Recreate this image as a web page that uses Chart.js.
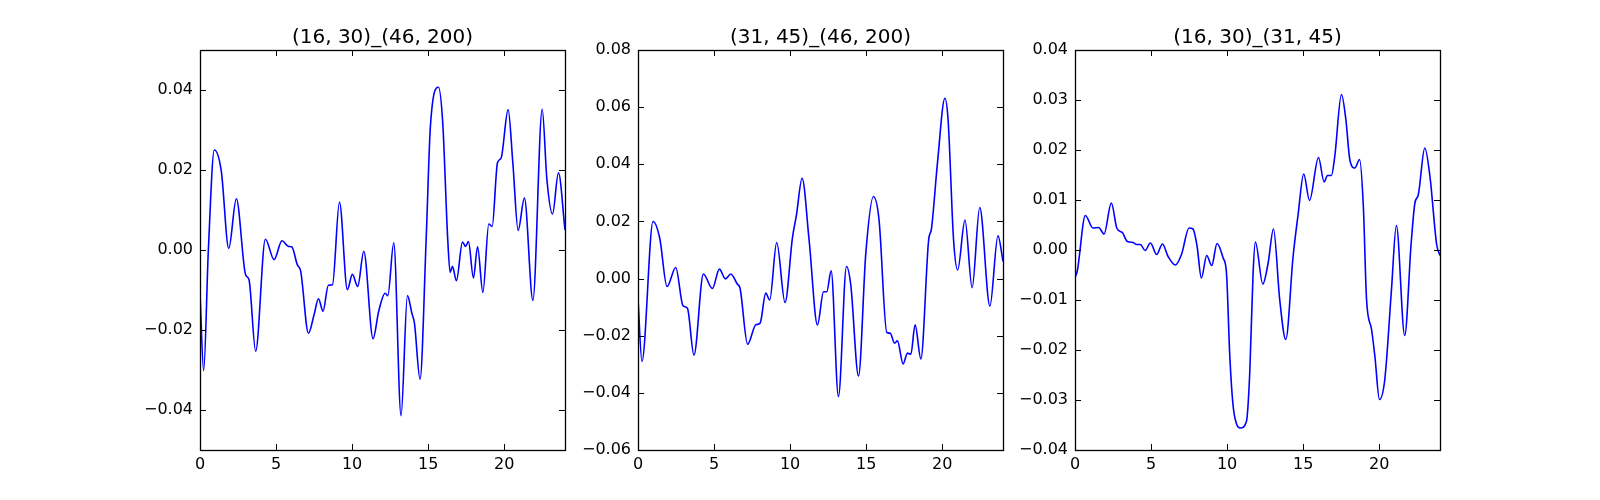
<!DOCTYPE html>
<html>
<head>
<meta charset="utf-8">
<script src="https://cdn.jsdelivr.net/npm/chart.js@4/dist/chart.umd.min.js"></script>
<style>
  html, body { margin: 0; padding: 0; background: #ffffff; }
  #wrap { position: relative; width: 1600px; height: 500px; overflow: hidden; background: #fff; }
  .pane { position: absolute; top: 0; }
</style>
</head>
<body>
<div id="wrap">
  <div class="pane" style="left:100px"><canvas id="c1" width="485" height="500"></canvas></div>
  <div class="pane" style="left:538px"><canvas id="c2" width="485" height="500"></canvas></div>
  <div class="pane" style="left:975px"><canvas id="c3" width="485" height="500"></canvas></div>
</div>
<script>
// ---------- titles ----------
const TITLES = ["(16, 30)_(46, 200)", "(31, 45)_(46, 200)", "(16, 30)_(31, 45)"];

// ---------- shared x axis ----------
const X_MIN = 0, X_MAX = 24;
const X_TICKS = [0, 5, 10, 15, 20];

// ---------- panel 1 ----------
const X1 = [0, 0.24, 0.55, 0.94, 1.4, 1.89, 2.39, 3.0, 3.22, 3.66, 4.3, 4.87, 5.39, 5.81, 6.03, 6.4, 6.62, 7.13, 7.5, 7.79, 8.09, 8.44, 8.71, 9.17, 9.69, 10.02, 10.37, 10.77, 11.38, 11.75, 12.17, 12.35, 12.74, 13.22, 13.64, 13.93, 14.1, 14.47, 14.87, 15.15, 15.68, 15.96, 16.29, 16.45, 16.6, 16.86, 17.26, 17.46, 17.65, 17.98, 18.25, 18.6, 18.99, 19.21, 19.56, 19.8, 20.26, 20.57, 20.92, 21.33, 21.89, 22.5, 22.81, 23.18, 23.57, 24];
const Y1 = [-0.0108, -0.0302, 0.0, 0.025, 0.0197, 0.0004, 0.0128, -0.0062, -0.0074, -0.0253, 0.0027, -0.0024, 0.0023, 0.0009, 0.0008, -0.0037, -0.0053, -0.0208, -0.0162, -0.0122, -0.0153, -0.0088, -0.0087, 0.012, -0.0099, -0.0061, -0.0091, -0.0003, -0.0222, -0.0153, -0.0108, -0.0114, 0.0018, -0.0414, -0.0114, -0.0158, -0.0183, -0.0323, 0.0026, 0.0309, 0.0407, 0.0318, 0.0026, -0.0056, -0.0041, -0.0077, 0.002, 0.0009, 0.0021, -0.007, 0.0008, -0.0106, 0.0065, 0.0059, 0.0218, 0.023, 0.0351, 0.0218, 0.0049, 0.013, -0.0126, 0.0352, 0.0176, 0.009, 0.0193, 0.005];
const Y1_MIN = -0.05, Y1_MAX = 0.05;
const Y1_TICKS = [-0.04, -0.02, 0.0, 0.02, 0.04];

// ---------- panel 2 ----------
const X2 = [0, 0.26, 0.99, 1.43, 1.91, 2.48, 2.96, 3.25, 3.68, 4.3, 4.89, 5.35, 5.75, 6.1, 6.54, 6.71, 7.21, 7.74, 8.03, 8.4, 8.66, 9.12, 9.67, 10.15, 10.42, 10.79, 11.25, 11.8, 12.2, 12.41, 12.7, 13.18, 13.71, 13.99, 14.5, 14.98, 15.48, 15.85, 16.36, 16.58, 16.87, 17.06, 17.43, 17.72, 17.94, 18.22, 18.6, 19.11, 19.3, 19.69, 20.18, 20.39, 20.75, 21.02, 21.5, 21.97, 22.47, 23.14, 23.67, 24];
const Y2 = [-0.007, -0.029, 0.02, 0.0141, -0.0028, 0.0039, -0.0095, -0.0104, -0.0268, 0.0016, -0.0035, 0.0033, -0.0001, 0.0016, -0.002, -0.0034, -0.023, -0.0162, -0.0156, -0.0051, -0.0075, 0.0126, -0.0084, 0.0141, 0.0223, 0.0351, 0.0135, -0.0162, -0.0046, -0.0046, 0.0027, -0.0413, 0.0042, -0.0022, -0.0341, 0.0089, 0.0287, 0.0205, -0.0189, -0.0191, -0.0226, -0.0218, -0.0299, -0.0261, -0.0265, -0.0162, -0.0281, 0.0135, 0.0176, 0.0404, 0.0631, 0.0555, 0.0135, 0.003, 0.0205, -0.0032, 0.0249, -0.0096, 0.015, 0.006];
const Y2_MIN = -0.06, Y2_MAX = 0.08;
const Y2_TICKS = [-0.06, -0.04, -0.02, 0.0, 0.02, 0.04, 0.06, 0.08];

// ---------- panel 3 ----------
const X3 = [0, 0.15, 0.68, 1.18, 1.56, 1.91, 2.39, 2.76, 3.11, 3.44, 3.82, 4.04, 4.3, 4.61, 4.96, 5.37, 5.75, 6.12, 6.6, 7.0, 7.5, 7.76, 8.03, 8.31, 8.66, 8.99, 9.34, 9.74, 9.96, 10.18, 10.39, 10.61, 10.88, 11.27, 11.49, 11.71, 11.86, 12.35, 12.7, 13.05, 13.46, 13.86, 14.34, 14.67, 15.04, 15.42, 16.01, 16.38, 16.6, 16.86, 17.08, 17.52, 17.81, 18.07, 18.4, 18.71, 18.96, 19.17, 19.5, 19.72, 20.02, 20.37, 20.81, 21.13, 21.68, 22.1, 22.35, 22.57, 23.0, 23.34, 23.78, 24];
const Y3 = [-0.0055, -0.0042, 0.0069, 0.0044, 0.0045, 0.0032, 0.0094, 0.0043, 0.0035, 0.0017, 0.0015, 0.0011, 0.0011, -0.0001, 0.0014, -0.0009, 0.0012, -0.0013, -0.003, -0.0009, 0.0044, 0.0042, 0.0007, -0.0056, -0.0011, -0.0031, 0.0013, -0.0016, -0.0046, -0.0213, -0.031, -0.0347, -0.0356, -0.0343, -0.0246, -0.0046, 0.0016, -0.0068, -0.0026, 0.0042, -0.0099, -0.0179, -0.0013, 0.0071, 0.0152, 0.0099, 0.0185, 0.0136, 0.0149, 0.0149, 0.0187, 0.0311, 0.0261, 0.0181, 0.0164, 0.0181, 0.0087, -0.0099, -0.0159, -0.0213, -0.0299, -0.0259, -0.0079, 0.0049, -0.0171, 0.0012, 0.0094, 0.011, 0.0204, 0.0147, 0.0011, -0.0011];
const Y3_MIN = -0.04, Y3_MAX = 0.04;
const Y3_TICKS = [-0.04, -0.03, -0.02, -0.01, 0.0, 0.01, 0.02, 0.03, 0.04];

// ---------- drawing ----------
const FONT = "'DejaVu Sans', 'Liberation Sans', sans-serif";
const LEFT_AXIS_W = 100;   // space for y tick labels inside each canvas
const BOTTOM_AXIS_H = 50;  // space for x tick labels
const TOP_PAD = 50;
const RIGHT_PAD = 20;

function fmtY(v) {
  const s = Math.abs(v).toFixed(2);
  return (v < -1e-12 ? '\u2212' : '') + s;
}

const framePlugin = {
  id: 'mplFrame',
  afterDraw(chart, args, opts) {
    const ctx = chart.ctx;
    const a = chart.chartArea;
    const xs = chart.scales.x, ys = chart.scales.y;
    const TL = 6;
    ctx.save();
    ctx.strokeStyle = '#000';
    ctx.lineWidth = 1;
    ctx.beginPath();
    xs.ticks.forEach(t => {
      const px = Math.round(xs.getPixelForValue(t.value)) + 0.5;
      ctx.moveTo(px, a.bottom); ctx.lineTo(px, a.bottom - TL);
      ctx.moveTo(px, a.top); ctx.lineTo(px, a.top + TL);
    });
    ys.ticks.forEach(t => {
      const py = Math.round(ys.getPixelForValue(t.value)) + 0.5;
      ctx.moveTo(a.left, py); ctx.lineTo(a.left + TL, py);
      ctx.moveTo(a.right, py); ctx.lineTo(a.right - TL, py);
    });
    ctx.stroke();
    ctx.lineWidth = 1.3;
    ctx.strokeRect(Math.round(a.left) + 0.5, Math.round(a.top) + 0.5,
                   Math.round(a.right - a.left), Math.round(a.bottom - a.top));
    // title
    ctx.fillStyle = '#000';
    ctx.font = "20px " + FONT;
    ctx.textAlign = 'center';
    ctx.textBaseline = 'alphabetic';
    ctx.fillText(opts.text, (a.left + a.right) / 2, a.top - 7);
    ctx.restore();
  }
};

function makeChart(id, title, xs, ys, yMin, yMax, yTicks) {
  const pts = xs.map((x, i) => ({ x: x, y: ys[i] }));
  return new Chart(document.getElementById(id), {
    type: 'line',
    data: {
      datasets: [{
        data: pts,
        borderColor: '#0000ff',
        borderWidth: 1.6,
        pointRadius: 0,
        fill: false,
        cubicInterpolationMode: 'monotone'
      }]
    },
    options: {
      responsive: false,
      animation: false,
      devicePixelRatio: 1,
      layout: { padding: { left: 0, right: RIGHT_PAD, top: TOP_PAD, bottom: 0 } },
      plugins: {
        legend: { display: false },
        tooltip: { enabled: false },
        title: { display: false },
        mplFrame: { text: title }
      },
      scales: {
        x: {
          type: 'linear',
          min: X_MIN, max: X_MAX,
          grid: { display: false, drawTicks: false },
          border: { display: false },
          afterBuildTicks: s => { s.ticks = X_TICKS.map(v => ({ value: v })); },
          afterFit: s => { s.height = BOTTOM_AXIS_H; },
          ticks: {
            color: '#000', padding: 5, maxRotation: 0, autoSkip: false,
            font: { family: FONT, size: 16 },
            callback: v => String(v)
          }
        },
        y: {
          type: 'linear',
          min: yMin, max: yMax,
          grid: { display: false, drawTicks: false },
          border: { display: false },
          afterBuildTicks: s => { s.ticks = yTicks.map(v => ({ value: v })); },
          afterFit: s => { s.width = LEFT_AXIS_W; },
          ticks: {
            color: '#000', padding: 7, autoSkip: false,
            font: { family: FONT, size: 16 },
            callback: v => fmtY(v)
          }
        }
      }
    },
    plugins: [framePlugin]
  });
}

makeChart('c1', TITLES[0], X1, Y1, Y1_MIN, Y1_MAX, Y1_TICKS);
makeChart('c2', TITLES[1], X2, Y2, Y2_MIN, Y2_MAX, Y2_TICKS);
makeChart('c3', TITLES[2], X3, Y3, Y3_MIN, Y3_MAX, Y3_TICKS);
</script>
</body>
</html>
